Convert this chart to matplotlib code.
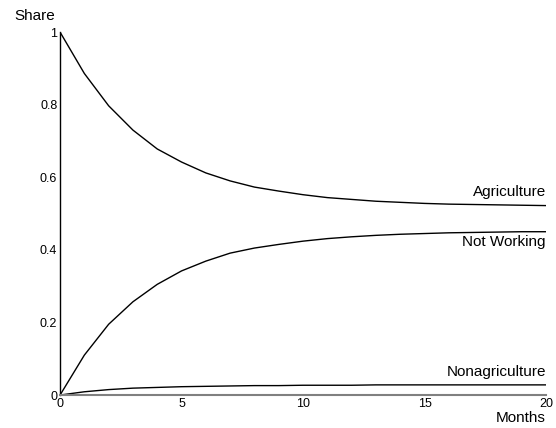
import numpy as np
import matplotlib
matplotlib.use("Agg")
import matplotlib.pyplot as plt

plt.rcParams['font.family'] = ['Liberation Sans', 'DejaVu Sans']

# Months since start
months = np.arange(0, 21)

# Shares
agriculture = [1.0, 0.886, 0.797, 0.730, 0.678, 0.642, 0.612, 0.590, 0.573, 0.562,
               0.552, 0.544, 0.539, 0.534, 0.531, 0.528, 0.526, 0.525, 0.524, 0.523, 0.522]
not_working = [0.0, 0.110, 0.195, 0.257, 0.305, 0.342, 0.369, 0.391, 0.405, 0.415,
               0.424, 0.431, 0.436, 0.440, 0.443, 0.445, 0.447, 0.448, 0.449, 0.450, 0.450]
nonagriculture = [0.0, 0.009, 0.015, 0.019, 0.021, 0.023, 0.024, 0.025, 0.026, 0.026,
                  0.027, 0.027, 0.027, 0.028, 0.028, 0.028, 0.028, 0.028, 0.028, 0.028, 0.028]

labels = ["Agriculture", "Not Working", "Nonagriculture"]
label_y = [0.559, 0.421, 0.063]

x_ticks = [0, 5, 10, 15, 20]
y_ticks = [0, 0.2, 0.4, 0.6, 0.8, 1]
y_tick_labels = ["0", "0.2", "0.4", "0.6", "0.8", "1"]

fig = plt.figure(figsize=(5.56, 4.28), dpi=100)
ax = fig.add_axes([0.108, 0.077, 0.874, 0.848])

for series in (agriculture, not_working, nonagriculture):
    ax.plot(months, series, color="black", linewidth=1.0)

for name, y in zip(labels, label_y):
    ax.text(20, y, name, ha="right", va="center", fontsize=11)

ax.set_xlim(0, 20)
ax.set_ylim(0, 1)
ax.set_xticks(x_ticks)
ax.set_xticklabels([str(t) for t in x_ticks])
ax.set_yticks(y_ticks)
ax.set_yticklabels(y_tick_labels)
ax.tick_params(length=0, labelsize=9)
ax.tick_params(axis="x", pad=2)
ax.tick_params(axis="y", pad=2)

ax.spines["top"].set_visible(False)
ax.spines["right"].set_visible(False)
ax.spines["left"].set_color("black")
ax.spines["left"].set_linewidth(1.0)
ax.spines["bottom"].set_color("#808080")
ax.spines["bottom"].set_linewidth(1.5)

fig.text(0.025, 0.963, "Share", ha="left", va="center", fontsize=11)
fig.text(0.982, 0.008, "Months", ha="right", va="bottom", fontsize=11)

fig.savefig("out.png", dpi=100)
